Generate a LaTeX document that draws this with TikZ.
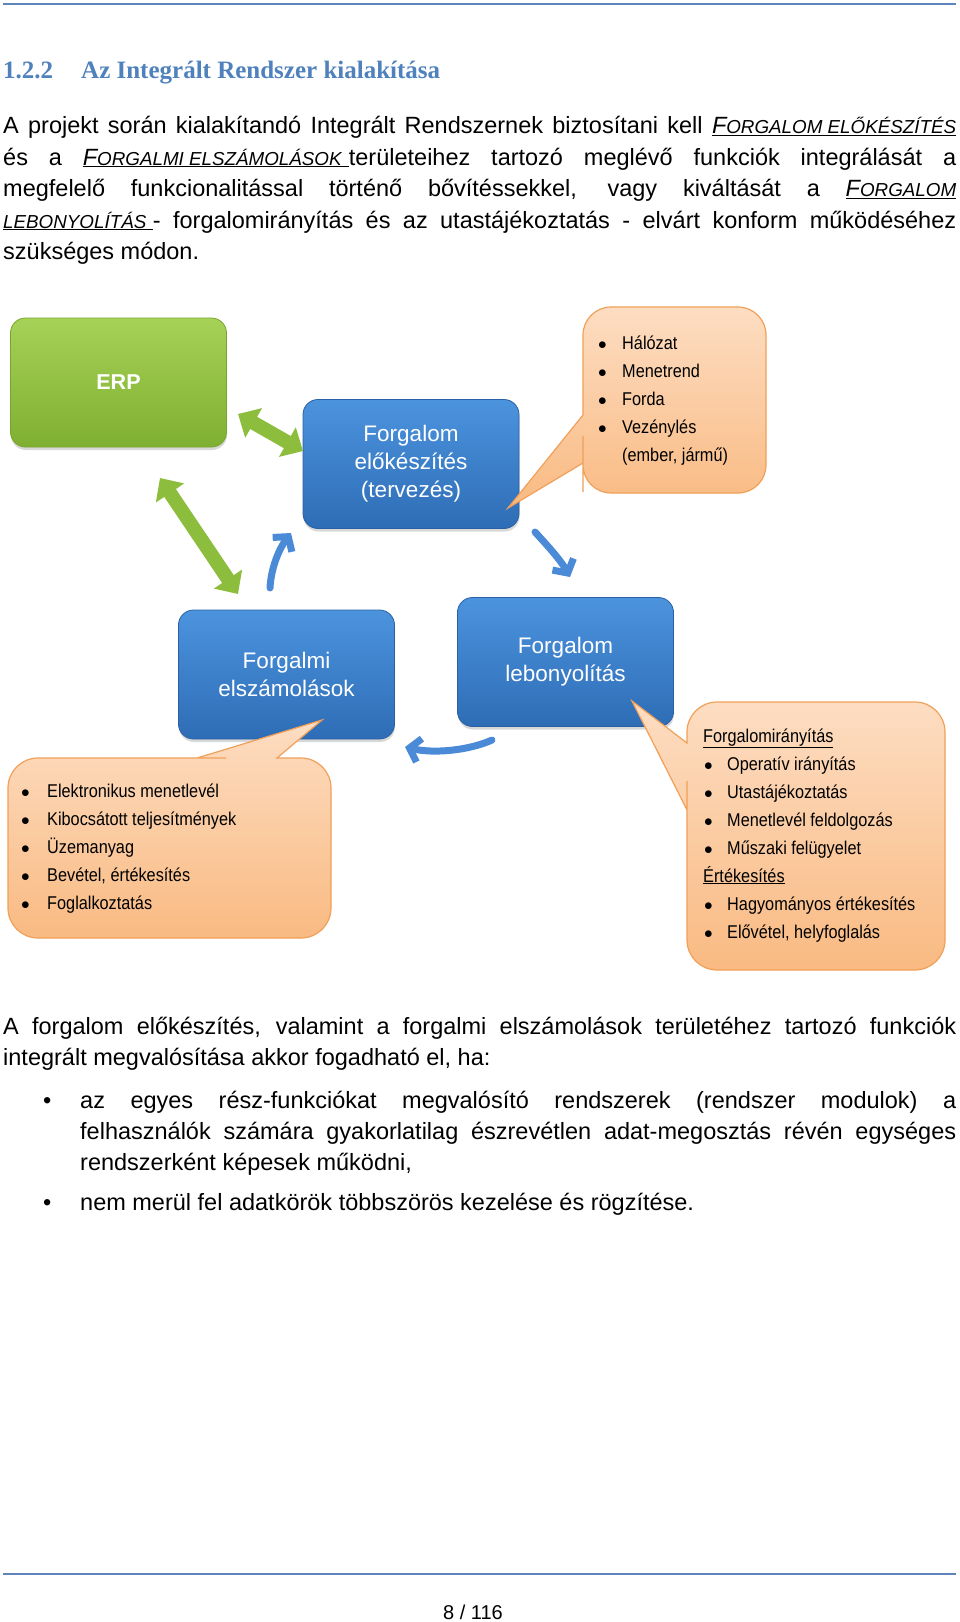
\documentclass[tikz,border=0pt]{standalone}
\usepackage{fontspec}
\setmainfont{Liberation Sans}
\newfontfamily\headfont{Liberation Serif}
\newfontfamily\narrowfont[FakeStretch=0.88]{Liberation Sans}
\usetikzlibrary{arrows.meta,shadows}
\definecolor{hdblue}{HTML}{4F81BD}
\definecolor{rulecol}{HTML}{5F84BC}
\definecolor{erptop}{HTML}{A6D257}
\definecolor{erpbot}{HTML}{7FAF30}
\definecolor{erpedge}{HTML}{78A52D}
\definecolor{modtop}{HTML}{4C93DE}
\definecolor{modbot}{HTML}{2E6DB6}
\definecolor{modedge}{HTML}{2A61A4}
\definecolor{calltop}{HTML}{FDDDC2}
\definecolor{callbot}{HTML}{F9BA82}
\definecolor{calledge}{HTML}{F0A058}
\definecolor{agreen}{HTML}{8CBD3D}
\definecolor{ablue}{HTML}{4A8AD6}
\newcommand{\bodyfont}{\fontsize{23.5pt}{31.5pt}\selectfont}
\newcommand{\modfont}{\fontsize{22.5pt}{28pt}\selectfont}
\newcommand{\itemfont}{\narrowfont\fontsize{18.5pt}{28pt}\selectfont}
\newcommand{\fsc}[1]{{\fontsize{18.8pt}{18.8pt}\selectfont #1}}
\newcommand{\uln}[1]{\underline{#1}}
\newcommand{\jl}[1]{\makebox[953pt][s]{#1}}
\newcommand{\bul}[1]{\makebox[#1][l]{$\bullet$}}

\begin{document}
\begin{tikzpicture}[x=1pt,y=-1pt,
   txt/.style={anchor=base west,inner sep=0pt,font=\bodyfont},
   hd/.style={anchor=base west,inner sep=0pt,text=hdblue,
              font=\headfont\bfseries\fontsize{25pt}{30pt}\selectfont},
   item/.style={anchor=base west,inner sep=0pt,font=\itemfont},
   modul/.style={rounded corners=15pt,minimum width=216pt,minimum height=129pt,
                 inner sep=0pt,align=center,text=white,font=\modfont,
                 line width=0.8pt,draw=modedge,top color=modtop,bottom color=modbot,
                 drop shadow={opacity=0.3,shadow xshift=0.5pt,shadow yshift=-3pt}},
   bubble/.style={draw=calledge,line width=1.2pt,top color=calltop,bottom color=callbot},
   greenar/.style={{Triangle[length=18pt,width=33pt]}-{Triangle[length=18pt,width=33pt]},
                   line width=14pt,draw=agreen},
   bluear/.style={-{Straight Barb[length=10pt,width=24pt]},line width=7pt,
                  draw=ablue,line cap=round},
   rulestyle/.style={draw=rulecol,line width=2pt}]
  \path[use as bounding box,fill=white] (0,0) rectangle (960,1622);
  \draw[rulestyle] (3,4) -- (956,4);
  \draw[rulestyle] (3,1573.5) -- (956,1573.5);

  % heading and first paragraph
  \node[hd] (secno) at (3,78) {1.2.2};
  \node[hd] (sectitle) at (81,78) {Az Integrált Rendszer kialakítása};
  \node[txt] (p1a) at (3,133.5) {\jl{A projekt során kialakítandó Integrált Rendszernek biztosítani kell \uln{\textit{F\fsc{ORGALOM ELŐKÉSZÍTÉS}}}}};
  \node[txt] (p1b) at (3,165) {\jl{és a \uln{\textit{F\fsc{ORGALMI ELSZÁMOLÁSOK}} }területeihez tartozó meglévő funkciók integrálását a}};
  \node[txt] (p1c) at (3,196.5) {\jl{megfelelő funkcionalitással történő bővítéssekkel, vagy kiváltását a \uln{\textit{F\fsc{ORGALOM}}}}};
  \node[txt] (p1d) at (3,228) {\jl{\uln{\textit{\fsc{LEBONYOLÍTÁS}} }- forgalomirányítás és az utastájékoztatás - elvárt konform működéséhez}};
  \node[txt] (p1e) at (3,259.5) {szükséges módon.};

  % diagram blocks
  \node[modul,draw=erpedge,top color=erptop,bottom color=erpbot,
        font=\bfseries\fontsize{21.5pt}{26pt}\selectfont] (erp) at (118.5,382.5) {ERP};
  \node[modul] (prep) at (411,464) {Forgalom\\előkészítés\\(tervezés)};
  \node[modul] (acct) at (286.5,674.5) {Forgalmi\\elszámolások};
  \node[modul] (exec) at (565.5,662) {Forgalom\\lebonyolítás};

  % arrows
  \coordinate (g1a) at (238,414);
  \coordinate (g1b) at (303,451);
  \coordinate (g2a) at (160,478);
  \coordinate (g2b) at (238,594);
  \draw[greenar] (g1a) -- (g1b);
  \draw[greenar] (g2a) -- (g2b);
  \coordinate (u1) at (270,588);
  \coordinate (u2) at (291,533);
  \coordinate (d1) at (535,532);
  \coordinate (d2) at (570,577);
  \coordinate (w1) at (492,740);
  \coordinate (w2) at (405,747);
  \draw[bluear] (u1) .. controls (271,568) and (279,549) .. (u2);
  \draw[bluear] (d1) .. controls (545,543) and (560,559) .. (d2);
  \draw[bluear] (w1) .. controls (470,750) and (435,754) .. (w2);

  % callouts
  \path[bubble] (675,307) [rounded corners=28pt] -- (766,307) -- (766,493) -- (583,493)
     -- (583,464) [sharp corners] -- (583,463) -- (508,508) -- (583,415) -- (583,414)
     [rounded corners=28pt] -- (583,307) -- cycle;
  \path[bubble] (8,848) [rounded corners=30pt] -- (8,758) -- (196,758) [sharp corners]
     -- (197,758) -- (322,720) -- (277,758) -- (278,758) [rounded corners=30pt]
     -- (331,758) -- (331,938) -- (8,938) -- cycle;
  \path[bubble] (816,702) [rounded corners=30pt] -- (945,702) -- (945,970) -- (687,970)
     -- (687,811) [sharp corners] -- (687,810) -- (632,701) -- (687,743) -- (687,742)
     [rounded corners=30pt] -- (687,702) -- cycle;

  \foreach \t [count=\i from 0] in {Hálózat,Menetrend,Forda,Vezénylés}
    \node[item] (h\i) at (598,{349+28*\i}) {\bul{24pt}\t};
  \node[item] (h4) at (622,461) {(ember, jármű)};
  \foreach \t [count=\i from 0] in {Elektronikus menetlevél,Kibocsátott teljesítmények,Üzemanyag,{Bevétel, értékesítés},Foglalkoztatás}
    \node[item] (e\i) at (21,{797+28*\i}) {\bul{26pt}\t};
  \node[item] (l0) at (703,742) {\uln{Forgalomirányítás}};
  \foreach \t [count=\i] in {Operatív irányítás,Utastájékoztatás,Menetlevél feldolgozás,Műszaki felügyelet}
    \node[item] (l\i) at (704,{742+28*\i}) {\bul{23pt}\t};
  \node[item] (l5) at (703,882) {\uln{Értékesítés}};
  \foreach \t [count=\i from 6] in {Hagyományos értékesítés,{Elővétel, helyfoglalás}}
    \node[item] (l\i) at (704,{742+28*\i}) {\bul{23pt}\t};

  % second paragraph
  \node[txt] (p2a) at (3,1034.5) {\jl{A forgalom előkészítés, valamint a forgalmi elszámolások területéhez tartozó funkciók}};
  \node[txt] (p2b) at (3,1065.5) {integrált megvalósítása akkor fogadható el, ha:};
  \node[txt] (bu1) at (43,1108) {\textbullet};
  \node[txt] (b1a) at (80,1108) {\makebox[876pt][s]{az egyes rész-funkciókat megvalósító rendszerek (rendszer modulok) a}};
  \node[txt] (b1b) at (80,1139) {\makebox[876pt][s]{felhasználók számára gyakorlatilag észrevétlen adat-megosztás révén egységes}};
  \node[txt] (b1c) at (80,1170) {rendszerként képesek működni,};
  \node[txt] (bu2) at (43,1210.5) {\textbullet};
  \node[txt] (b2a) at (80,1210.5) {nem merül fel adatkörök többszörös kezelése és rögzítése.};

  \node[anchor=base,inner sep=0pt,font=\fontsize{20pt}{24pt}\selectfont] (pg) at (473,1619) {8 / 116};
\end{tikzpicture}
\end{document}
